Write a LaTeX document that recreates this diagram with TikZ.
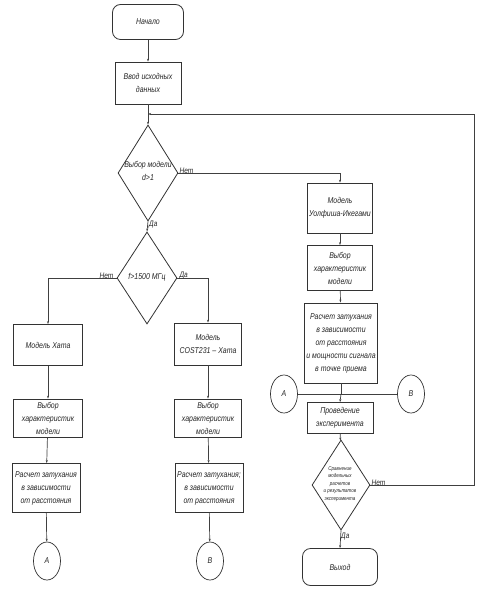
\documentclass[tikz,border=0pt]{standalone}
\usepackage{fontspec}
\setmainfont{Liberation Sans}[FakeStretch=0.82]
\usetikzlibrary{shapes.geometric,arrows.meta}
\begin{document}
\begin{tikzpicture}[x=1pt,y=-1pt,
  every node/.style={font=\itshape\fontsize{8.5}{13}\selectfont, text=black!85, align=center, inner sep=0pt},
  lnk/.style={draw=black!75, line width=0.7pt},
  arr/.style={lnk, -{Stealth[length=3pt,width=2pt]}},
  blk/.style={draw=black!80, line width=0.8pt, rectangle},
  term/.style={draw=black!80, line width=0.8pt, rectangle, rounded corners=8pt},
  dec/.style={draw=black!80, line width=0.8pt, diamond},
  conn/.style={draw=black!80, line width=0.7pt, ellipse, minimum width=27pt, minimum height=38pt},
  lbl/.style={font=\itshape\fontsize{8}{9}\selectfont}
]
\useasboundingbox (0,0) rectangle (500,601);
\fill[white] (0,0) rectangle (500,601);

% top
\node[term, minimum width=71pt, minimum height=35pt] (start) at (148,22) {Начало};
\node[blk, minimum width=66pt, minimum height=42pt] (inp) at (148,83) {Ввод исходных\\данных};
\node[dec, minimum width=60pt, minimum height=96pt] (d1) at (148,173) {};
\node (d1t) at (148,171) {Выбор модели\\d>1};

% right column
\node[blk, minimum width=65pt, minimum height=50pt] (m3) at (340,208) {Модель\\Уолфиша-Икегами};
\node[blk, minimum width=65pt, minimum height=45pt] (v3) at (340,268) {Выбор\\характеристик\\модели};
\node[blk, minimum width=73pt, minimum height=80pt] (r3) at (341,343) {Расчет затухания\\в зависимости\\от расстояния\\и мощности сигнала\\в точке приема};
\node[conn] (A2) at (284,394) {А};
\node[conn] (B2) at (411,394) {В};
\node[blk, minimum width=66pt, minimum height=31pt] (exp) at (340,418) {Проведение\\эксперимента};
\node[dec, minimum width=58pt, minimum height=90pt] (d2) at (341,485) {};
\node[font=\itshape\fontsize{5.5}{7.5}\selectfont] (d2t) at (340,484) {Сравнение\\модельных\\расчетов\\и результатов\\эксперимента};
\node[term, minimum width=75pt, minimum height=37pt] (exit) at (340,567) {Выход};

% middle decision
\node[dec, minimum width=60pt, minimum height=92pt] (d3) at (147,278) {};
\node (d3t) at (147,277) {f>1500 МГц};

% left column
\node[blk, minimum width=69pt, minimum height=41pt] (m1) at (48,345) {Модель Хата};
\node[blk, minimum width=69pt, minimum height=38pt] (v1) at (48,418) {Выбор\\характеристик\\модели};
\node[blk, minimum width=68pt, minimum height=49pt] (r1) at (46,488) {Расчет затухания\\в зависимости\\от расстояния};
\node[conn] (A1) at (47,561) {А};

% mid column
\node[blk, minimum width=67pt, minimum height=42pt] (m2) at (208,344) {Модель\\COST231 – Хата};
\node[blk, minimum width=67pt, minimum height=38pt] (v2) at (208,418) {Выбор\\характеристик\\модели};
\node[blk, minimum width=68pt, minimum height=49pt] (r2) at (209,488) {Расчет затухания;\\в зависимости\\от расстояния};
\node[conn] (B1) at (210,561) {В};

% coordinates
\coordinate (j1) at (148,114);
\coordinate (loopc) at (474,485);
\coordinate (j2) at (341,394);

% connectors
\draw[arr] (start) -- (inp);
\draw[arr] (inp) -- (d1);
\draw[arr] (d2.east) -- (loopc) |- (j1);
\draw[arr] (d1.east) -| (m3.north);
\node[lbl, anchor=south west] (n1) at ([xshift=1pt,yshift=-1pt]d1.east) {Нет};
\draw[arr] (d1.south) -- (d3.north);
\node[lbl, anchor=west] (y1) at ([xshift=1pt,yshift=-3pt]d1.south) {Да};
\draw[arr] (m3) -- (v3);
\draw[arr] (v3) -- (r3);
\draw[lnk] (r3.south) -- (j2);
\draw[lnk] (A2.east) -- (B2.west);
\draw[arr] (j2) -- (exp.north);
\draw[arr] (exp) -- (d2);
\draw[arr] (d2.south) -- (exit.north);
\node[lbl, anchor=west] (y2) at ([xshift=0pt,yshift=-6pt]d2.south) {Да};
\node[lbl, anchor=south west] (n2) at ([xshift=1pt,yshift=-1pt]d2.east) {Нет};

\draw[arr] (d3.west) -| (m1.north);
\node[lbl, anchor=south east] (n3) at ([xshift=-3pt,yshift=-1pt]d3.west) {Нет};
\draw[arr] (d3.east) -| (m2.north);
\node[lbl, anchor=south west] (y3) at ([xshift=2pt,yshift=-1pt]d3.east) {Да};

\draw[arr] (m1) -- (v1);
\draw[arr] (v1) -- (r1);
\draw[arr] (r1) -- (A1);
\draw[arr] (m2) -- (v2);
\draw[arr] (v2) -- (r2);
\draw[arr] (r2) -- (B1);
\end{tikzpicture}
\end{document}
